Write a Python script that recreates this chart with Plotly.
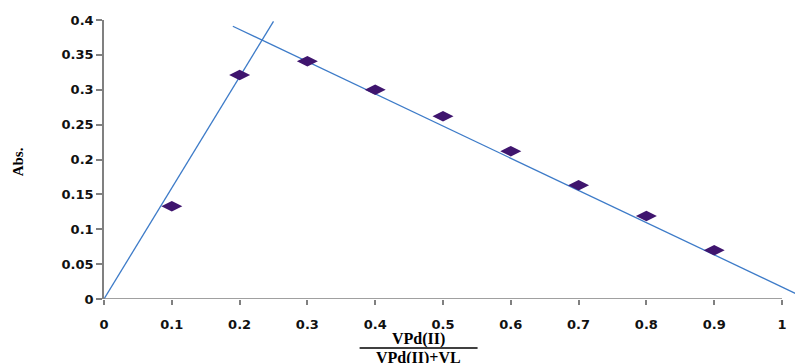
import plotly.graph_objects as go

# data
x_vals = [0.1, 0.2, 0.3, 0.4, 0.5, 0.6, 0.7, 0.8, 0.9]
abs_vals = [0.133, 0.321, 0.341, 0.300, 0.262, 0.212, 0.163, 0.119, 0.070]

# fitted lines (end points)
line1_x = [0.0, 0.25]
line1_y = [0.0, 0.398]
line2_x = [0.19, 1.02]
line2_y = [0.391, 0.008]

x_ticks = [0, 0.1, 0.2, 0.3, 0.4, 0.5, 0.6, 0.7, 0.8, 0.9, 1]
x_tick_text = ["0", "0.1", "0.2", "0.3", "0.4", "0.5", "0.6", "0.7", "0.8", "0.9", "1"]
y_ticks = [0, 0.05, 0.1, 0.15, 0.2, 0.25, 0.3, 0.35, 0.4]
y_tick_text = ["0", "0.05", "0.1", "0.15", "0.2", "0.25", "0.3", "0.35", "0.4"]

line_color = "#3D7BC8"
axis_color = "#808080"

fig = go.Figure()
fig.add_trace(go.Scatter(x=line1_x, y=line1_y, mode="lines",
                         line=dict(color=line_color, width=1.3), hoverinfo="skip"))
fig.add_trace(go.Scatter(x=line2_x, y=line2_y, mode="lines",
                         line=dict(color=line_color, width=1.3), hoverinfo="skip"))
fig.add_trace(go.Scatter(x=x_vals, y=abs_vals, mode="markers",
                         marker=dict(symbol="diamond-wide", size=15, color="#3F156E",
                                     line=dict(width=0))))

tick_font = dict(family="DejaVu Sans", size=13, color="#111111", weight="bold")

fig.update_layout(
    width=795, height=363,
    margin=dict(l=104, r=0, t=20, b=64, autoexpand=False),
    paper_bgcolor="white", plot_bgcolor="white",
    showlegend=False,
    xaxis=dict(range=[0, 1.0192], tickvals=x_ticks, ticktext=x_tick_text,
               showgrid=False, zeroline=False, showline=False, automargin=False,
               ticks="outside", ticklen=5, tickwidth=1.5, tickcolor=axis_color,
               tickfont=tick_font, ticklabelstandoff=8),
    yaxis=dict(range=[0, 0.4], tickvals=y_ticks, ticktext=y_tick_text,
               showgrid=False, zeroline=False, showline=True, automargin=False,
               linecolor=axis_color, linewidth=1.5,
               ticks="outside", ticklen=6, tickwidth=1.5, tickcolor=axis_color,
               tickfont=tick_font, ticksuffix="\u2002\u00a0"),
)

# x axis line stops at 1
fig.add_shape(type="line", xref="x", yref="y", x0=0, x1=1, y0=0, y1=0,
              line=dict(color=axis_color, width=1.5), layer="above")

label_font = dict(family="Liberation Serif", size=16, color="black", weight="bold")

# fraction x-axis title
fig.add_annotation(xref="x", yref="paper", x=0.464, y=-0.143, text="VPd(II)",
                   showarrow=False, font=label_font, xanchor="center", yanchor="middle")
fig.add_annotation(xref="x", yref="paper", x=0.464, y=-0.21, text="VPd(II)+VL",
                   showarrow=False, font=label_font, xanchor="center", yanchor="middle")
fig.add_shape(type="line", xref="x", yref="paper", x0=0.377, x1=0.551, y0=-0.176, y1=-0.176,
              line=dict(color="black", width=1.5))

fig.add_annotation(xref="paper", yref="paper", x=-0.124, y=0.491, text="Abs.",
                   showarrow=False, textangle=-90,
                   font=dict(family="Liberation Serif", size=15, color="black", weight="bold"),
                   xanchor="center", yanchor="middle")

fig.write_html("out.html", config={"displayModeBar": False},
               post_script="document.body.style.margin='0px';document.body.style.overflow='hidden';")
